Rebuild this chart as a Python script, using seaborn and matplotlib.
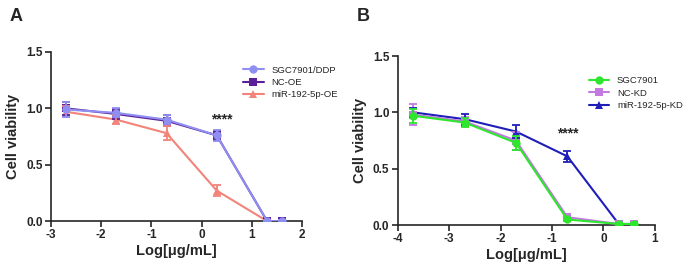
import pandas as pd
import matplotlib.pyplot as plt
import seaborn as sns

# data
dose_a = [-2.7, -1.7, -0.7, 0.3, 1.3, 1.6]
sgc_ddp = [0.99, 0.96, 0.90, 0.76, 0.00, 0.00]
nc_oe = [1.00, 0.95, 0.89, 0.76, 0.00, 0.00]
mir_oe = [0.97, 0.90, 0.78, 0.27, 0.00, 0.00]
err_sgc_ddp = [0.07, 0.04, 0.04, 0.05, 0.01, 0.01]
err_nc_oe = [0.06, 0.04, 0.05, 0.04, 0.01, 0.01]
err_mir_oe = [0.05, 0.04, 0.06, 0.05, 0.01, 0.01]

dose_b = [-3.7, -2.7, -1.7, -0.7, 0.3, 0.6]
sgc = [0.97, 0.91, 0.73, 0.05, 0.01, 0.01]
nc_kd = [0.98, 0.92, 0.75, 0.07, 0.01, 0.01]
mir_kd = [1.00, 0.94, 0.83, 0.61, 0.01, 0.01]
err_sgc = [0.06, 0.04, 0.06, 0.01, 0.01, 0.01]
err_nc_kd = [0.09, 0.04, 0.08, 0.01, 0.01, 0.01]
err_mir_kd = [0.04, 0.05, 0.06, 0.05, 0.01, 0.01]

panels = [
    dict(letter="A", x=dose_a, xlim=(-3, 2), star_x=0.4, star_y=0.9,
         series=[("SGC7901/DDP", sgc_ddp, err_sgc_ddp, "#8f8ff2", "o"),
                 ("NC-OE", nc_oe, err_nc_oe, "#5b1f99", "s"),
                 ("miR-192-5p-OE", mir_oe, err_mir_oe, "#f2847a", "^")],
         pos=[0.074, 0.175, 0.366, 0.631], leg=(0.73, 0.97)),
    dict(letter="B", x=dose_b, xlim=(-4, 1), star_x=-0.7, star_y=0.81,
         series=[("SGC7901", sgc, err_sgc, "#2ee62e", "o"),
                 ("NC-KD", nc_kd, err_nc_kd, "#c27ae0", "s"),
                 ("miR-192-5p-KD", mir_kd, err_mir_kd, "#1f1fb8", "^")],
         pos=[0.579, 0.16, 0.374, 0.631], leg=(0.71, 0.93)),
]

sns.set_theme(style="ticks")
plt.rcParams['font.family'] = ['Liberation Sans', 'DejaVu Sans']
plt.rcParams['axes.unicode_minus'] = False

fig = plt.figure(figsize=(6.87, 2.68), dpi=100)

for p in panels:
    ax = fig.add_axes(p["pos"])
    rows = []
    for name, vals, errs, col, mk in p["series"]:
        for xv, yv in zip(p["x"], vals):
            rows.append({"dose": xv, "viab": yv, "group": name})
    df = pd.DataFrame(rows)
    names = [s[0] for s in p["series"]]
    palette = {s[0]: s[3] for s in p["series"]}
    markers = {s[0]: s[4] for s in p["series"]}
    sns.lineplot(data=df, x="dose", y="viab", hue="group", style="group",
                 hue_order=names, style_order=names, palette=palette,
                 markers=markers, dashes=False, markersize=6, linewidth=1.5,
                 markeredgewidth=0, ax=ax)
    # first group sits on top of the control group in the original
    ax.lines[0].set_zorder(4)
    ax.lines[1].set_zorder(3)
    for i, (name, vals, errs, col, mk) in enumerate(p["series"]):
        ax.errorbar(p["x"], vals, yerr=errs, fmt="none", ecolor=col,
                    elinewidth=1.3, capsize=3, capthick=1.3,
                    zorder=4 if i == 0 else 3)
    ax.text(p["star_x"], p["star_y"], "****", ha="center", va="center",
            fontsize=10, fontweight="bold")
    ax.set_xlim(*p["xlim"])
    ax.set_ylim(0, 1.5)
    ax.set_yticks([0.0, 0.5, 1.0, 1.5])
    ax.set_yticklabels(["0.0", "0.5", "1.0", "1.5"])
    ax.set_xticks(range(p["xlim"][0], p["xlim"][1] + 1))
    ax.tick_params(labelsize=8.5, width=1.2, length=4, pad=2)
    for lbl in ax.get_xticklabels() + ax.get_yticklabels():
        lbl.set_fontweight("bold")
    ax.set_xlabel("Log[μg/mL]", fontsize=10.5, fontweight="bold", labelpad=2)
    ax.set_ylabel("Cell viability", fontsize=10.5, fontweight="bold", labelpad=4)
    for s in ["left", "bottom"]:
        ax.spines[s].set_linewidth(1.2)
    sns.despine(ax=ax)
    ax.legend(loc="upper left", bbox_to_anchor=p["leg"], frameon=False,
              fontsize=6.8, handlelength=2.2, labelspacing=0.35,
              title=None)
    fig.text(p["pos"][0] - 0.06, 0.92, p["letter"], fontsize=13,
             fontweight="bold")

fig.savefig("out.png", dpi=100)
